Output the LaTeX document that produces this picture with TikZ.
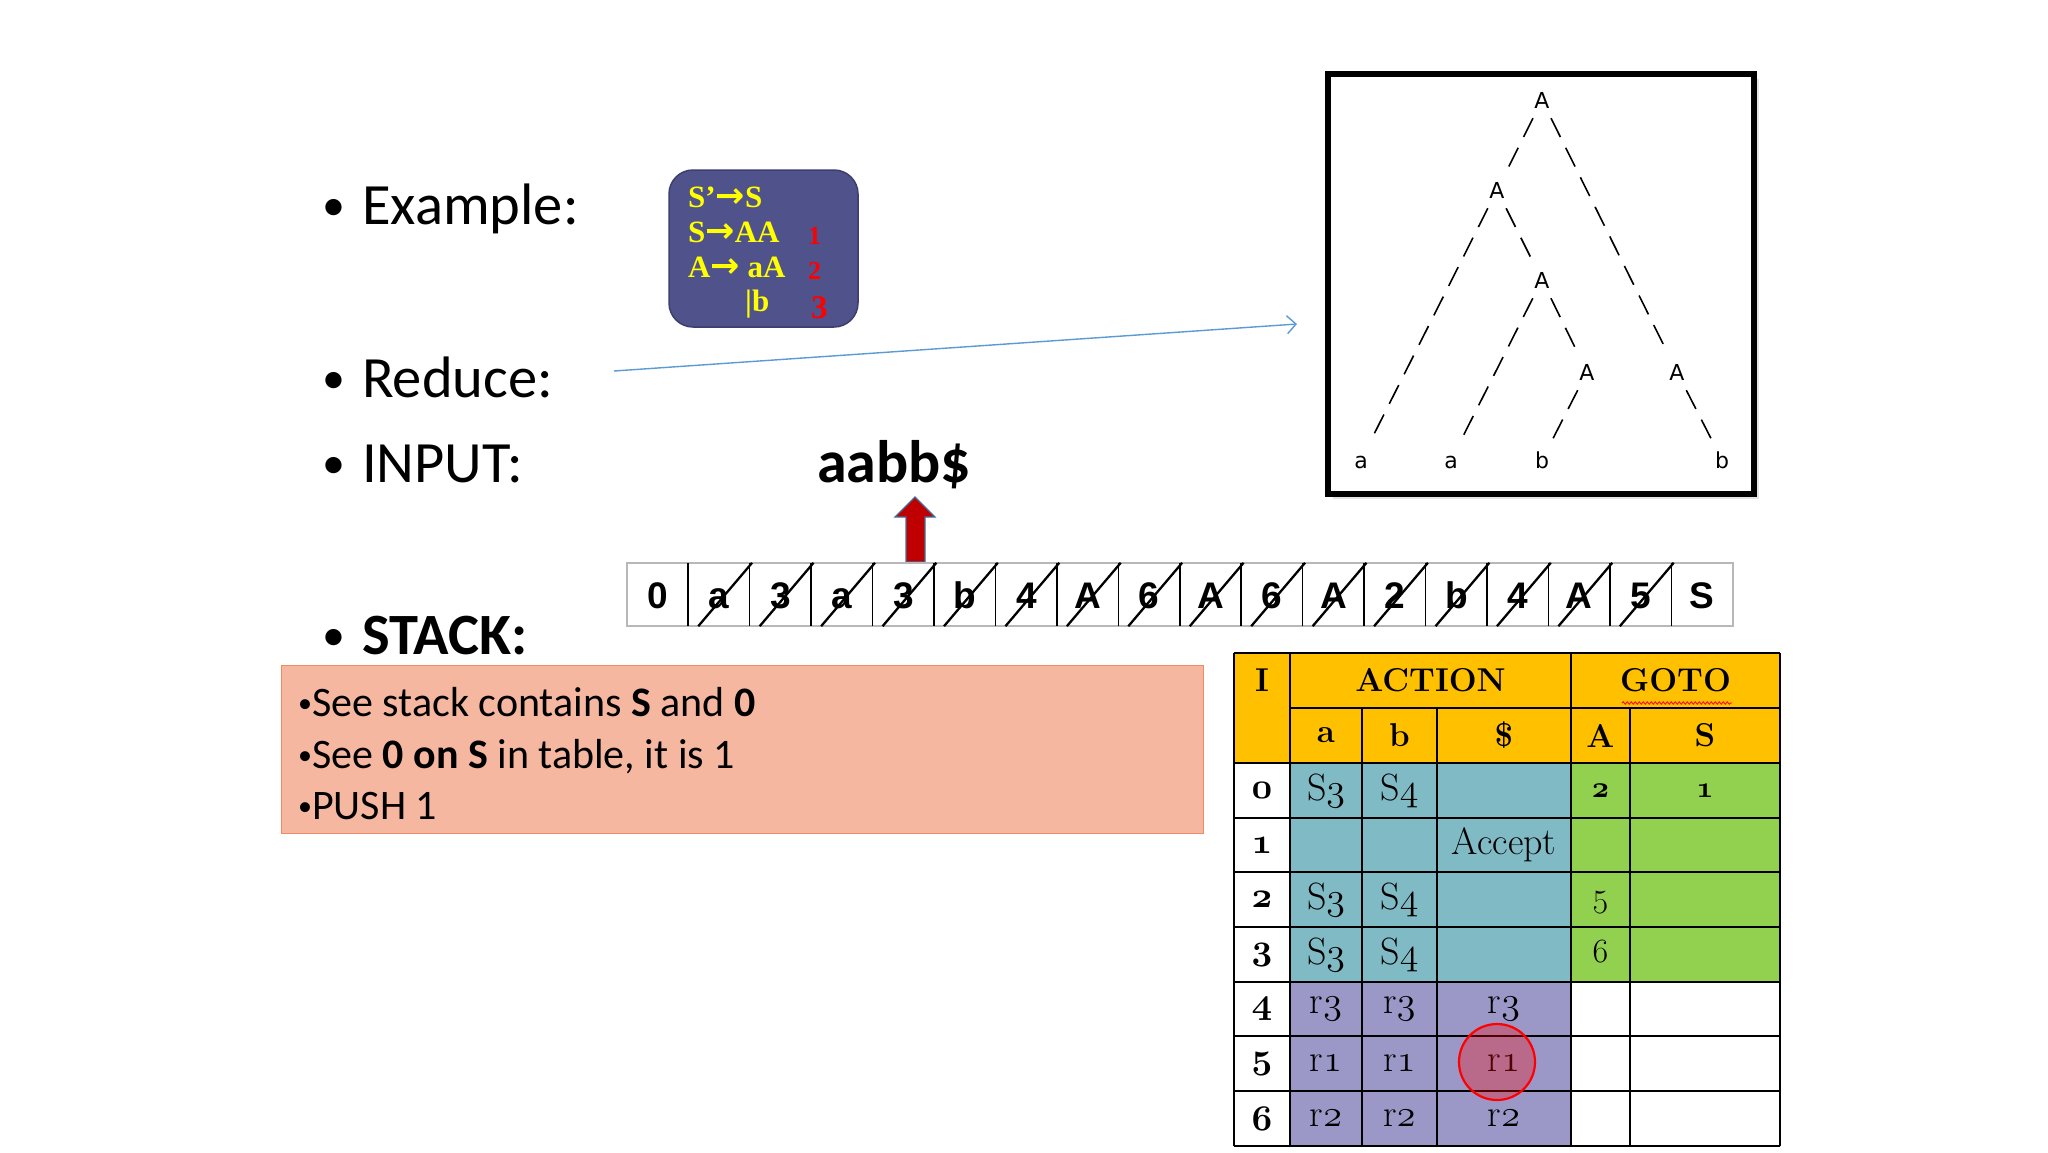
\RequirePackage{fix-cm}
\documentclass[tikz,border=0pt]{standalone}
\usepackage{fontspec}
\newfontfamily\calibri{Carlito}
\newfontfamily\arialf{Liberation Sans}
\newfontfamily\timesf{Liberation Serif}
\newfontfamily\dejavu{DejaVu Sans}
\usetikzlibrary{calc,arrows.meta,shadows,decorations.pathmorphing}
\definecolor{gramfill}{RGB}{80,82,140}
\definecolor{gramborder}{RGB}{60,62,110}
\definecolor{gramyellow}{RGB}{255,255,0}
\definecolor{pinkfill}{RGB}{245,183,160}
\definecolor{pinkborder}{RGB}{236,140,100}
\definecolor{hdrcol}{RGB}{255,192,0}
\definecolor{actcol}{RGB}{128,186,196}
\definecolor{gotocol}{RGB}{146,208,80}
\definecolor{lavcol}{RGB}{155,152,200}
\definecolor{lineblue}{RGB}{91,155,213}
\definecolor{arrred}{RGB}{192,0,0}
\definecolor{arredge}{RGB}{65,113,156}
\newcommand\osfm[1]{{\fontencoding{OML}\fontfamily{cmm}\fontseries{m}\fontshape{it}\selectfont #1}}
\newcommand\osfb[1]{{\fontencoding{OML}\fontfamily{cmm}\fontseries{b}\fontshape{it}\selectfont #1}}
\newcommand\garr{{\dejavu\bfseries\fontsize{35}{38}\selectfont →}}
\newcommand\smbul{{\fontsize{28}{30}\selectfont\raisebox{4pt}{•}}}
\begin{document}
\begin{tikzpicture}[x=1pt,y=-1pt,
  bul/.style={anchor=base west, inner sep=0, font=\calibri\fontsize{58.5}{68}\selectfont},
  bulb/.style={anchor=base, inner sep=0, font=\calibri\fontsize{46}{54}\selectfont},
  gtxt/.style={anchor=base west, inner sep=0, text=gramyellow, font=\timesf\bfseries\fontsize{31}{34}\selectfont},
  gnum/.style={anchor=base west, inner sep=0, text=red, font=\timesf\bfseries\fontsize{26}{30}\selectfont},
  tnode/.style={anchor=base, inner xsep=5pt, inner ysep=10pt, text height=16pt, text depth=0pt, font=\dejavu\fontsize{22}{26}\selectfont},
  tedge/.style={dash pattern=on 21pt off 12pt, line width=1.6},
  stkcell/.style={minimum width=61.44, minimum height=63, inner sep=0, text height=27pt, text depth=0pt, font=\arialf\bfseries\fontsize{37}{40}\selectfont},
  ntxt/.style={anchor=base west, inner sep=0, font=\calibri\fontsize{42}{48}\selectfont},
  tbl/.style={inner sep=0, font=\fontsize{38}{42}\selectfont},
  tblb/.style={inner sep=0, font=\bfseries\fontsize{33}{38}\selectfont},
  grid/.style={line width=2.4, black}
]
\useasboundingbox (0,0) rectangle (2048,1152);
\fill[white] (0,0) rectangle (2048,1152);

% ---------- bullets ----------
\node[bulb] (bu1) at (334,220) {•};
\node[bul] (ex) at (362,224) {Example:};
\node[bulb] (bu2) at (334,393) {•};
\node[bul] (redu) at (362,397) {Reduce:};
\node[bulb] (bu3) at (334,478) {•};
\node[bul] (inp) at (362,482) {INPUT:};
\node[bulb] (bu4) at (334,650) {•};
\node[bul, font=\calibri\bfseries\fontsize{58.5}{68}\selectfont] (stk) at (362,654) {STACK:};

% ---------- grammar box ----------
\node[draw=gramborder, fill=gramfill, rounded corners=24, line width=1.5, minimum width=189, minimum height=157, inner sep=0] (gram) at (763.5,248.5) {};
\node[gtxt] (g1) at (688,207) {S’\garr S};
\node[gtxt] (g2) at (688,242) {S\garr AA};
\node[gtxt] (g3) at (688,277) {A\garr\ aA};
\node[gtxt] (g4) at (745,311) {|b};
\node[gnum] (n1) at (808,244) {1};
\node[gnum] (n2) at (808,279) {2};
\node[gnum, font=\timesf\bfseries\fontsize{33}{38}\selectfont] (n3) at (811,318) {3};

% ---------- connector ----------
\coordinate (ls) at (614,371);
\coordinate (le) at (1297,324);
\draw[lineblue, line width=1.4, -{Straight Barb[length=9pt,width=18pt]}] (ls) -- (le);

% ---------- input ----------
\node[bul, font=\calibri\bfseries\fontsize{60}{70}\selectfont] (aabb) at (817,482) {aabb\$};
\fill[arrred, draw=arredge, line width=1.2]
  (915,497) -- (935,517) -- (925,517) -- (925,562) -- (906,562) -- (906,517) -- (895,517) -- cycle;

% ---------- stack ----------
\foreach \t [count=\i from 0] in {0,a,3,a,3,b,4,A,6,A,6,A,2,b,4,A,5,S} {
  \node[stkcell] (c\i) at ({627+61.44*(\i+0.5)},594.5) {\t};
}
\draw[black!28, line width=2] (c0.north west) rectangle (c17.south east);
\foreach \i in {1,...,17} \draw[black, line width=1.6] (c\i.north west) -- (c\i.south west);
\foreach \i in {1,...,16} \draw[black, line width=2.3] ($(c\i.south west)+(10,0)$) -- ($(c\i.north east)+(2,0)$);

% ---------- tree box ----------
\node[draw, line width=6.5, minimum width=426, minimum height=420, inner sep=0, fill=white,
  drop shadow={opacity=0.22, shadow xshift=5pt, shadow yshift=-5pt}] (treebox) at (1541,284) {};
\node[tnode] (t1) at (1542,108) {A};
\node[tnode] (t2) at (1497,198) {A};
\node[tnode] (t3) at (1542,288) {A};
\node[tnode] (t4) at (1587,380) {A};
\node[tnode] (t5) at (1677,380) {A};
\node[tnode] (l1) at (1361,468) {a};
\node[tnode] (l2) at (1451,468) {a};
\node[tnode] (l3) at (1542,468) {b};
\node[tnode] (l4) at (1722,468) {b};
\draw[tedge] (t1) -- (t2);
\draw[tedge] (t1) -- (t5);
\draw[tedge] (t2) -- (l1);
\draw[tedge] (t2) -- (t3);
\draw[tedge] (t3) -- (l2);
\draw[tedge] (t3) -- (t4);
\draw[tedge] (t4) -- (l3);
\draw[tedge] (t5) -- (l4);

% ---------- note box ----------
\node[draw=pinkborder, fill=pinkfill, line width=1.3, minimum width=922, minimum height=168, inner sep=0, anchor=north west] (note) at (281,665) {};
\node[ntxt] (nl1) at (298,716) {\smbul See stack contains \textbf{S} and \textbf{0}};
\node[ntxt] (nl2) at (298,768) {\smbul See \textbf{0 on S} in table, it is 1};
\node[ntxt] (nl3) at (298,819) {\smbul PUSH 1};

% ---------- table ----------
\fill[hdrcol] (1234,653) rectangle (1780,763);
\fill[actcol] (1290,763) rectangle (1571,982);
\fill[gotocol] (1571,763) rectangle (1780,982);
\fill[lavcol] (1290,982) rectangle (1571,1146);
\draw[grid] (1234,653) -- (1780,653);
\draw[grid] (1290,708) -- (1780,708);
\foreach \yy in {763,818,872,927,982,1036,1091,1146} \draw[grid] (1234,\yy) -- (1780,\yy);
\foreach \xx in {1234,1290,1571,1780} \draw[grid] (\xx,653) -- (\xx,1146);
\foreach \xx in {1362,1437,1630} \draw[grid] (\xx,708) -- (\xx,1146);

\node[tblb] (hI) at (1262,680.5) {I};
\node[tblb] (hact) at (1430.5,680.5) {ACTION};
\node[tblb] (hgoto) at (1675.5,680.5) {GOTO};
\draw[red, line width=0.8, decorate, decoration={snake, amplitude=1.3pt, segment length=4pt}] (1622,703) -- (1732,703);
\node[tblb] (ha) at (1326,735.5) {a};
\node[tblb] (hb) at (1399.5,735.5) {b};
\node[tblb] (hd) at (1504,735.5) {\$};
\node[tblb] (hA) at (1600.5,735.5) {A};
\node[tblb] (hS) at (1705,735.5) {S};

\foreach \lab/\yy in {0/790.5,1/845,2/899.5,3/954.5,4/1009,5/1063.5,6/1118.5}
  \node[tbl, font=\fontsize{36}{40}\selectfont] (rl\lab) at (1262,\yy) {\osfb{\lab}};

\node[tbl] (r0a) at (1326,790.5) {S\osfm{3}};
\node[tbl] (r0b) at (1399.5,790.5) {S\osfm{4}};
\node[tbl, font=\fontsize{30}{34}\selectfont] (r0A) at (1600.5,790.5) {\osfb{2}};
\node[tbl, font=\fontsize{30}{34}\selectfont] (r0S) at (1705,790.5) {\osfb{1}};
\node[tbl] (r1d) at (1504,845) {Accept};
\node[tbl] (r2a) at (1326,899.5) {S\osfm{3}};
\node[tbl] (r2b) at (1399.5,899.5) {S\osfm{4}};
\node[tbl, font=\fontsize{34}{38}\selectfont] (r2A) at (1600.5,903) {5};
\node[tbl] (r3a) at (1326,954.5) {S\osfm{3}};
\node[tbl] (r3b) at (1399.5,954.5) {S\osfm{4}};
\node[tbl, font=\fontsize{34}{38}\selectfont] (r3A) at (1600.5,952) {6};
\node[tbl] (r4a) at (1326,1009) {r\osfm{3}};
\node[tbl] (r4b) at (1399.5,1009) {r\osfm{3}};
\node[tbl] (r4d) at (1504,1009) {r\osfm{3}};
\node[tbl] (r5a) at (1326,1063.5) {r\osfm{1}};
\node[tbl] (r5b) at (1399.5,1063.5) {r\osfm{1}};
\node[tbl] (r5d) at (1504,1063.5) {r\osfm{1}};
\node[tbl] (r6a) at (1326,1118.5) {r\osfm{2}};
\node[tbl] (r6b) at (1399.5,1118.5) {r\osfm{2}};
\node[tbl] (r6d) at (1504,1118.5) {r\osfm{2}};
\node[circle, draw=red, line width=2.2, fill=red, fill opacity=0.3, minimum size=76, inner sep=0] (circ) at (1497,1062) {};
\end{tikzpicture}
\end{document}
